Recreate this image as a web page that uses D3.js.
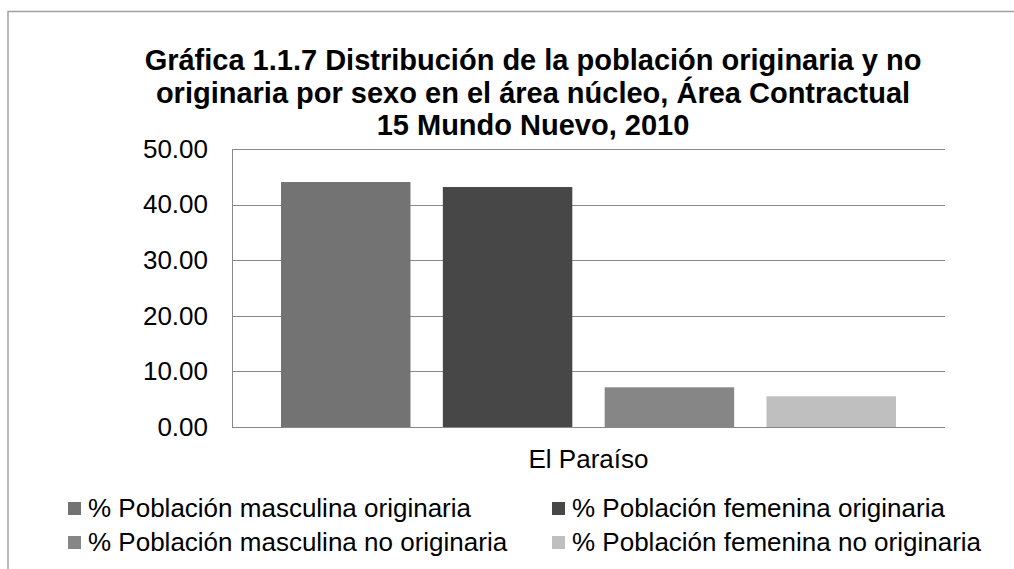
<!DOCTYPE html>
<meta charset="utf-8">
<script src="https://d3js.org/d3.v7.min.js"></script>
<style>
  body { margin: 0; background: #fff; }
  text { font-family: "Liberation Sans", Arial, sans-serif; fill: #000; }
</style>
<div id="chart"></div>
<script>
// data
var categories = ["El Paraíso"];
var seriesNames = [
  "% Población masculina originaria",
  "% Población femenina originaria",
  "% Población masculina no originaria",
  "% Población femenina no originaria"
];
var seriesValues = [44.06, 43.16, 7.14, 5.52];
var seriesColors = ["#737373", "#474747", "#868686", "#bfbfbf"];
var yTicks = [0, 10, 20, 30, 40, 50];
var titleLines = [
  "Gráfica 1.1.7 Distribución de la población originaria y no",
  "originaria por sexo en el área núcleo, Área Contractual",
  "15 Mundo Nuevo, 2010"
];

var W = 1014, H = 569;
var margin = {top: 149, left: 232, right: 69, bottom: 142};
var width = W - margin.left - margin.right,
    height = H - margin.top - margin.bottom;

var root = d3.select("#chart").append("svg")
  .attr("width", W).attr("height", H);

// outer chart frame
root.append("path")
  .attr("d", "M8," + H + "V11.5H" + W)
  .attr("fill", "none").attr("stroke", "#a0a0a0").attr("stroke-width", 1.5);

// title
root.append("text")
  .attr("text-anchor", "middle")
  .style("font-size", "29px").style("font-weight", "bold")
  .selectAll("tspan").data(titleLines).enter().append("tspan")
    .attr("x", 533).attr("y", function(d, i) { return 70 + i * 32.5; })
    .text(function(d) { return d; });

var svg = root.append("g")
  .attr("transform", "translate(" + margin.left + "," + margin.top + ")");

var y = d3.scaleLinear().domain([0, 50]).range([height, 0]);
var x0 = d3.scaleBand().domain(categories).range([0, width]).padding(0.0738);
var x1 = d3.scaleBand().domain(seriesNames).range([0, x0.bandwidth()]).paddingInner(0.2);

// gridlines
svg.selectAll(".grid").data(yTicks).enter().append("line")
  .attr("x1", 0).attr("x2", width)
  .attr("y1", function(d) { return Math.round(y(d)) + 0.5; })
  .attr("y2", function(d) { return Math.round(y(d)) + 0.5; })
  .attr("stroke", "#888").attr("stroke-width", 1);

// y axis
var yAxis = svg.append("g")
  .call(d3.axisLeft(y).tickValues(yTicks).tickFormat(d3.format(".2f")).tickSize(0).tickPadding(24));
yAxis.select(".domain").attr("stroke", "#888").attr("d", "M0.5,0.5V" + (height + 0.5));
yAxis.selectAll("text").style("font-size", "26px").attr("font-family", null);

// bars
var cat = svg.selectAll(".cat").data(categories).enter().append("g")
  .attr("transform", function(d) { return "translate(" + x0(d) + ",0)"; });
cat.selectAll("rect").data(seriesNames).enter().append("rect")
  .attr("x", function(d) { return x1(d); })
  .attr("width", x1.bandwidth())
  .attr("y", function(d, i) { return y(seriesValues[i]); })
  .attr("height", function(d, i) { return height - y(seriesValues[i]); })
  .attr("fill", function(d, i) { return seriesColors[i]; });

// category label
svg.selectAll(".catlabel").data(categories).enter().append("text")
  .attr("x", function(d) { return x0(d) + x0.bandwidth() / 2 - 0; })
  .attr("y", height + 41)
  .attr("text-anchor", "middle")
  .style("font-size", "26px")
  .text(function(d) { return d; });

// legend
var legend = root.selectAll(".legend").data(seriesNames).enter().append("g")
  .attr("transform", function(d, i) {
    return "translate(" + (i % 2 === 0 ? 68 : 552) + "," + (i < 2 ? 517 : 551) + ")";
  });
legend.append("rect")
  .attr("x", 0).attr("y", -15).attr("width", 13).attr("height", 13)
  .attr("fill", function(d, i) { return seriesColors[i]; });
legend.append("text")
  .attr("x", 20).attr("y", 0)
  .style("font-size", "26px")
  .text(function(d) { return d; });
</script>
